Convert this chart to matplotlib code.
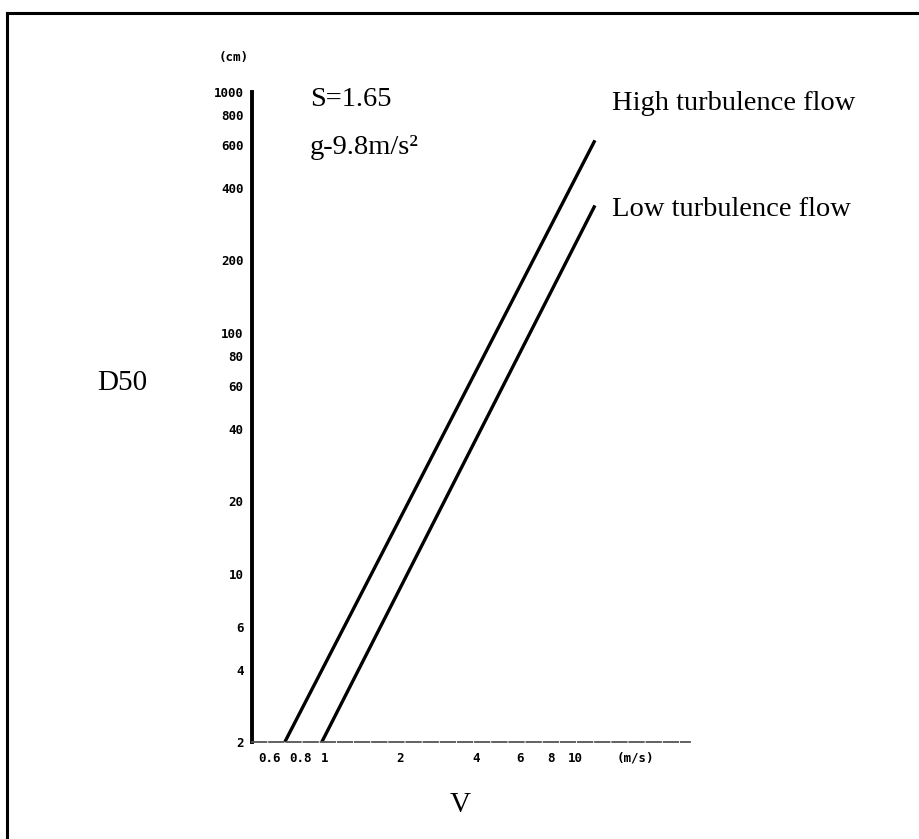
import matplotlib
matplotlib.use("Agg")
import matplotlib.pyplot as plt
from matplotlib.lines import Line2D

# ---- data ----
high_v = [0.69, 12.0]
high_d = [2.0, 630.0]
low_v = [0.97, 12.0]
low_d = [2.0, 338.0]

y_ticks = [1000, 800, 600, 400, 200, 100, 80, 60, 40, 20, 10, 6, 4, 2]
y_tick_labels = ["1000", "800", "600", "400", "200", "100", "80", "60", "40", "20", "10", "6", "4", "2"]
x_ticks = [0.6, 0.8, 1, 2, 4, 6, 8, 10]
x_tick_labels = ["0.6", "0.8", "1", "2", "4", "6", "8", "10"]

W, H = 920, 839
fig = plt.figure(figsize=(W / 100, H / 100), dpi=100)
fig.patch.set_facecolor("white")

def fx(px):
    return px / W

def fy(py):
    return (H - py) / H

ax = fig.add_axes([fx(252), fy(742), fx(690) - fx(252), fy(92) - fy(742)])
ax.set_xscale("log")
ax.set_yscale("log")
ax.set_xlim(0.51, 28.8)
ax.set_ylim(2, 1000)

ax.plot(high_v, high_d, color="black", lw=2.4, solid_capstyle="butt")
ax.plot(low_v, low_d, color="black", lw=2.4, solid_capstyle="butt")

for s in ["top", "right"]:
    ax.spines[s].set_visible(False)
ax.spines["left"].set_linewidth(2.8)
ax.spines["left"].set_color("black")
ax.spines["bottom"].set_linewidth(1.3)
ax.spines["bottom"].set_color("#555555")
ax.spines["bottom"].set_linestyle((0, (8, 1.5)))

tick_font = dict(family="DejaVu Sans Mono", weight="bold", size=9)
ax.set_yticks(y_ticks)
ax.set_yticklabels(y_tick_labels, **tick_font)
ax.set_xticks(x_ticks)
ax.set_xticklabels(x_tick_labels, **tick_font)
ax.minorticks_off()
ax.tick_params(axis="both", length=0, pad=7)
ax.tick_params(axis="y", pad=6)

serif = "Liberation Serif"
fig.text(fx(234), fy(57), "(cm)", ha="center", va="center", **tick_font)
fig.text(fx(635), fy(758), "(m/s)", ha="center", va="center", **tick_font)

fig.text(fx(310), fy(100), "S=1.65", ha="left", va="center", family=serif, fontsize=20.5)
fig.text(fx(310), fy(148), "g-9.8m/s²", ha="left", va="center", family=serif, fontsize=20.5)
fig.text(fx(612), fy(104), "High turbulence flow", ha="left", va="center", family=serif, fontsize=20.5)
fig.text(fx(612), fy(210), "Low turbulence flow", ha="left", va="center", family=serif, fontsize=20.5)
fig.text(fx(122), fy(383), "D50", ha="center", va="center", family=serif, fontsize=21)
fig.text(fx(460), fy(805), "V", ha="center", va="center", family=serif, fontsize=21)

# partial frame border
fig.add_artist(Line2D([fx(7), fx(7)], [fy(13), fy(839)], color="black", lw=2.2))
fig.add_artist(Line2D([fx(7), fx(920)], [fy(13), fy(13)], color="black", lw=2.2))

fig.savefig("out.png", dpi=100, facecolor="white")
